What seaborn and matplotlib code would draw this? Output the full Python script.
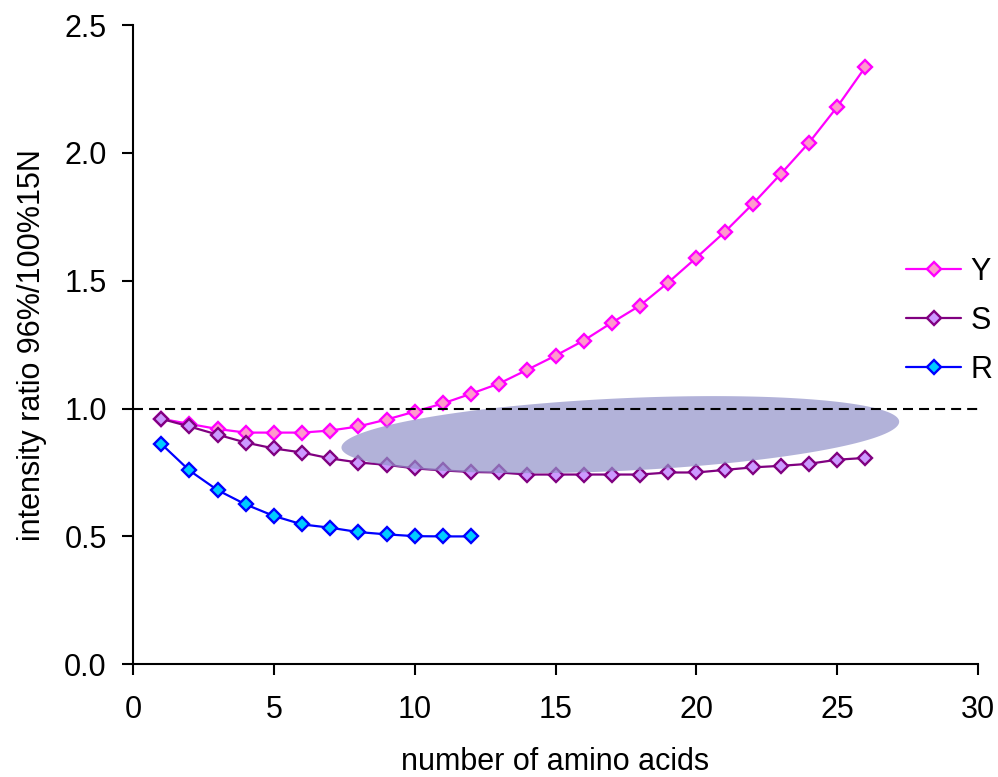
import numpy as np
import pandas as pd
import matplotlib
matplotlib.use("Agg")
import matplotlib.pyplot as plt
import seaborn as sns

# ─── Data ─────────────────────────────────────────────────────────────────────
amino_acids_y = list(range(1, 27))
ratio_y = [0.96, 0.94, 0.92, 0.906, 0.906, 0.906, 0.914, 0.93, 0.957, 0.988,
           1.02, 1.058, 1.098, 1.152, 1.207, 1.266, 1.336, 1.403, 1.493, 1.59,
           1.69, 1.80, 1.918, 2.04, 2.18, 2.336]

amino_acids_s = list(range(1, 27))
ratio_s = [0.96, 0.93, 0.898, 0.867, 0.844, 0.828, 0.805, 0.789, 0.78, 0.766,
           0.758, 0.752, 0.75, 0.742, 0.742, 0.742, 0.742, 0.742, 0.75, 0.75,
           0.76, 0.77, 0.776, 0.784, 0.80, 0.807]

amino_acids_r = list(range(1, 13))
ratio_r = [0.862, 0.758, 0.681, 0.625, 0.58, 0.547, 0.534, 0.517, 0.508, 0.501,
           0.50, 0.50]

# highlighted region (shaded, slightly tilted ellipse), in data units
ellipse_center = (17.3, 0.898)
ellipse_half_width = 9.9
ellipse_half_height = 0.142
ellipse_slope = 0.0051

FS = 22

sns.set_theme(style="ticks")
plt.rcParams["font.family"] = ["Liberation Sans", "DejaVu Sans"]
plt.rcParams["text.color"] = "black"
plt.rcParams["axes.labelcolor"] = "black"
plt.rcParams["xtick.color"] = "black"
plt.rcParams["ytick.color"] = "black"

fig = plt.figure(figsize=(9.98, 7.77), dpi=100)
ax = fig.add_axes([0.1333, 0.1451, 0.8467, 0.8227])

series = [
    ("Y", amino_acids_y, ratio_y, "#FF00FF", "#FF99CC"),
    ("S", amino_acids_s, ratio_s, "#800080", "#CC99FF"),
    ("R", amino_acids_r, ratio_r, "#0000FF", "#00CCFF"),
]
for name, xs, ys, line_c, face_c in series:
    df = pd.DataFrame({"n": xs, "ratio": ys})
    sns.lineplot(data=df, x="n", y="ratio", ax=ax, color=line_c, lw=1.6,
                 marker="D", markersize=7, markerfacecolor=face_c,
                 markeredgecolor=line_c, markeredgewidth=1.7, label=name,
                 zorder=3)

# shaded ellipse
t = np.linspace(0, 2 * np.pi, 300)
ex = ellipse_center[0] + ellipse_half_width * np.cos(t)
ey = (ellipse_center[1] + ellipse_half_height * np.sin(t)
      + ellipse_slope * (ex - ellipse_center[0]))
ax.fill(ex, ey, color="#9292C9", alpha=0.7, lw=0, zorder=4)

ax.axhline(1.0, color="black", lw=1.5, ls=(0, (4.8, 2.9)), zorder=5)

ax.set_xlim(0, 30)
ax.set_ylim(0, 2.5)
ax.set_xticks(range(0, 31, 5))
ax.set_yticks(np.arange(0, 2.51, 0.5))
ax.yaxis.set_major_formatter(matplotlib.ticker.FormatStrFormatter("%.1f"))
ax.tick_params(axis="both", labelsize=FS, width=1.5, length=8, color="black",
               direction="out")
ax.tick_params(axis="x", pad=14)
ax.tick_params(axis="y", pad=11)
for side in ["top", "right"]:
    ax.spines[side].set_visible(False)
for side in ["left", "bottom"]:
    ax.spines[side].set_linewidth(1.5)
    ax.spines[side].set_color("black")

ax.set_xlabel("number of amino acids", fontsize=FS, labelpad=16)
ax.set_ylabel("intensity ratio 96%/100%15N", fontsize=FS, labelpad=12)

ax.legend(loc="upper left", bbox_to_anchor=(0.915, 0.637), frameon=False,
          fontsize=FS, borderaxespad=0, borderpad=0, handlelength=1.8,
          handletextpad=0.3, labelspacing=0.62)

fig.savefig("out.png", dpi=100)
